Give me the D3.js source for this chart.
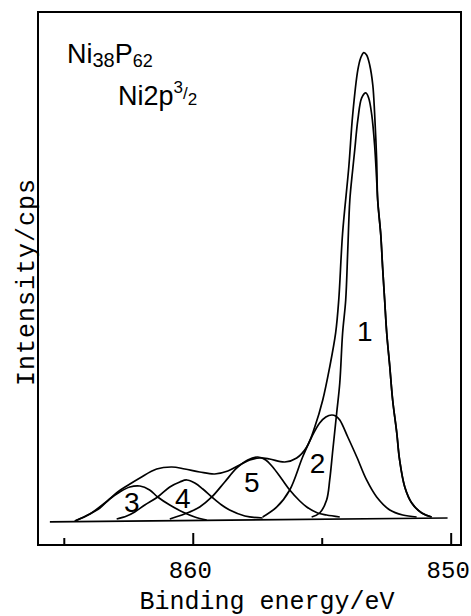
<!DOCTYPE html>
<html>
<head>
<meta charset="utf-8">
<script src="https://cdn.jsdelivr.net/npm/d3@7"></script>
<style>
  body { margin: 0; background: #fff; }
  svg text { fill: #000; }
</style>
</head>
<body>
<div id="chart"></div>
<script>
  // binding energy (eV) and intensity (arb. cps)
  const baseE = [865.54, 850.12]
  const baseI = [-0.37, 0.56]

  const envE = [864.57, 863.99, 863.41, 862.91, 862.56, 862.05, 861.40, 860.81, 860.31, 859.73, 859.15, 858.64, 858.18, 857.79, 857.40, 857.02, 856.43, 855.97, 855.58, 855.27, 854.96, 854.69, 854.46, 854.34, 854.19, 853.95, 853.80, 853.60, 853.49, 853.37, 853.26, 853.14, 853.02, 852.95, 852.87, 852.83, 852.71, 852.64, 852.56, 852.48, 852.36, 852.25, 852.09, 851.98, 851.78, 851.51, 851.12, 850.74]
  const envI = [-0.14, 1.50, 4.07, 6.65, 8.05, 9.93, 12.03, 12.50, 12.03, 11.33, 10.86, 11.56, 12.97, 14.14, 14.61, 14.37, 13.67, 14.61, 17.18, 21.86, 28.18, 35.91, 43.87, 51.59, 67.28, 82.72, 94.90, 105.43, 108.24, 109.48, 108.94, 106.60, 101.92, 95.37, 84.36, 75.00, 66.81, 59.32, 51.59, 43.87, 35.91, 28.18, 20.46, 14.14, 7.82, 4.07, 1.73, 0.80]

  const p1E = [855.39, 855.08, 854.81, 854.69, 854.57, 854.42, 854.30, 854.19, 854.07, 853.99, 853.91, 853.80, 853.72, 853.60, 853.45, 853.29, 853.18, 853.06, 852.95, 852.87, 852.83, 852.71, 852.64, 852.56, 852.48, 852.36, 852.25, 852.09, 851.98, 851.78, 851.51, 851.12, 850.74]
  const p1I = [0.80, 1.73, 4.78, 9.46, 16.48, 25.14, 32.16, 43.87, 51.59, 63.30, 75.00, 82.02, 86.70, 93.73, 98.88, 100.05, 98.88, 94.90, 87.87, 79.68, 75.00, 66.81, 59.32, 51.59, 43.87, 35.91, 28.18, 20.46, 14.14, 7.82, 4.07, 1.73, 0.80]

  const p2E = [857.29, 856.74, 856.24, 855.74, 855.39, 855.08, 854.84, 854.61, 854.46, 854.30, 853.99, 853.64, 853.26, 852.87, 852.36, 851.86, 851.32]
  const p2I = [0.80, 3.14, 7.12, 14.84, 19.52, 22.80, 24.20, 24.67, 24.44, 23.50, 19.52, 14.84, 9.46, 5.48, 2.43, 1.26, 0.80]

  const p3E = [864.57, 863.99, 863.60, 863.22, 862.83, 862.44, 862.05, 861.67, 861.36, 860.89, 860.39, 859.92, 859.46]
  const p3I = [-0.14, 1.50, 2.90, 5.01, 6.65, 7.82, 8.05, 7.12, 5.48, 3.60, 1.97, 0.80, 0.09]

  const p4E = [862.95, 862.56, 862.25, 861.86, 861.36, 860.89, 860.50, 860.23, 859.92, 859.61, 859.26, 858.88, 858.57, 857.98, 857.29]
  const p4I = [0.33, 1.03, 1.97, 3.60, 5.48, 7.82, 8.99, 9.46, 8.75, 7.35, 5.48, 3.60, 2.43, 1.03, 0.56]

  const p5E = [860.89, 860.12, 859.73, 859.26, 858.76, 858.29, 857.87, 857.48, 857.17, 856.90, 856.55, 856.24, 855.85, 855.58, 855.16, 854.81, 854.30]
  const p5I = [0.33, 1.97, 3.14, 5.48, 8.99, 12.27, 14.14, 14.84, 14.14, 12.50, 9.69, 7.12, 4.54, 3.14, 1.73, 1.26, 0.80]

  const peakNames = ["1", "2", "3", "4", "5"]
  const labelE = [853.33, 855.16, 862.36, 860.39, 857.71]
  const labelI = [44.1, 13.4, 4.3, 5.2, 8.9]

  const majorTicks = [860, 850]
  const minorTicks = [865, 855]

  const width = 471
  const height = 616
  const margin = { top: 12, right: 10, bottom: 71, left: 38 }

  const svg = d3.select("#chart")
    .append("svg")
    .attr("width", width)
    .attr("height", height)

  const x = d3.scaleLinear()
    .domain([866.0, 849.6])
    .range([margin.left, width - margin.right])

  const y = d3.scaleLinear()
    .domain([-5.76, 119.0])
    .range([height - margin.bottom, margin.top])

  const line = d3.line()
    .x(d => x(d[0]))
    .y(d => y(d[1]))
    .curve(d3.curveCatmullRom.alpha(0.5))

  const curves = [
    d3.zip(baseE, baseI),
    d3.zip(p3E, p3I),
    d3.zip(p4E, p4I),
    d3.zip(p5E, p5I),
    d3.zip(p2E, p2I),
    d3.zip(p1E, p1I),
    d3.zip(envE, envI)
  ]

  svg.append("g")
    .selectAll("path")
    .data(curves)
    .join("path")
      .attr("d", line)
      .attr("fill", "none")
      .attr("stroke", "#000")
      .attr("stroke-width", 1.7)
      .attr("stroke-linejoin", "round")

  // frame
  svg.append("rect")
    .attr("x", margin.left)
    .attr("y", margin.top)
    .attr("width", width - margin.right - margin.left)
    .attr("height", height - margin.bottom - margin.top)
    .attr("fill", "none")
    .attr("stroke", "#000")
    .attr("stroke-width", 2)

  function xAxis(g) {
    g.attr("transform", `translate(0,${height - margin.bottom})`)
      .call(d3.axisBottom(x).tickValues(majorTicks).tickSizeInner(-12).tickSizeOuter(0).tickPadding(16).tickFormat(d3.format("d")))
      .call(g => g.select(".domain").remove())
      .call(g => g.selectAll(".tick line").attr("stroke-width", 2))
      .call(g => g.selectAll(".tick text")
        .attr("font-family", "'Liberation Mono', monospace")
        .attr("font-size", 24)
        .attr("dx", -3))
  }

  function xMinor(g) {
    g.attr("transform", `translate(0,${height - margin.bottom})`)
      .call(d3.axisBottom(x).tickValues(minorTicks).tickSizeInner(-7).tickSizeOuter(0).tickFormat(""))
      .call(g => g.select(".domain").remove())
      .call(g => g.selectAll(".tick line").attr("stroke-width", 2))
  }

  svg.append("g").call(xAxis)
  svg.append("g").call(xMinor)

  svg.append("text")
    .attr("x", 267)
    .attr("y", 609)
    .attr("text-anchor", "middle")
    .attr("font-family", "'Liberation Mono', monospace")
    .attr("font-size", 25)
    .text("Binding energy/eV")

  svg.append("text")
    .attr("transform", "translate(34,282) rotate(-90)")
    .attr("text-anchor", "middle")
    .attr("font-family", "'Liberation Mono', monospace")
    .attr("font-size", 25)
    .attr("letter-spacing", 1)
    .text("Intensity/cps")

  // peak numbers
  svg.append("g")
    .selectAll("text")
    .data(peakNames)
    .join("text")
      .attr("x", (d, i) => x(labelE[i]))
      .attr("y", (d, i) => y(labelI[i]))
      .attr("text-anchor", "middle")
      .attr("dominant-baseline", "central")
      .attr("font-family", "'Liberation Sans', Arial, sans-serif")
      .attr("font-size", 28)
      .text(d => d)

  // sample / line annotation
  const t1 = svg.append("text")
    .attr("x", 67)
    .attr("y", 63)
    .attr("font-family", "'Liberation Sans', Arial, sans-serif")
    .attr("font-size", 27)
  t1.append("tspan").text("Ni")
  t1.append("tspan").attr("font-size", 20).attr("dy", 4).text("38")
  t1.append("tspan").attr("dy", -4).text("P")
  t1.append("tspan").attr("font-size", 18).attr("dy", 4).text("62")

  const t2 = svg.append("text")
    .attr("x", 118)
    .attr("y", 105)
    .attr("font-family", "'Liberation Sans', Arial, sans-serif")
    .attr("font-size", 27)
  t2.append("tspan").text("Ni2p")
  t2.append("tspan").attr("font-size", 17).attr("dy", -12).text("3")
  t2.append("tspan").attr("font-size", 17).attr("dy", 6).text("/")
  t2.append("tspan").attr("font-size", 17).attr("dy", 6).text("2")
</script>
</body>
</html>
